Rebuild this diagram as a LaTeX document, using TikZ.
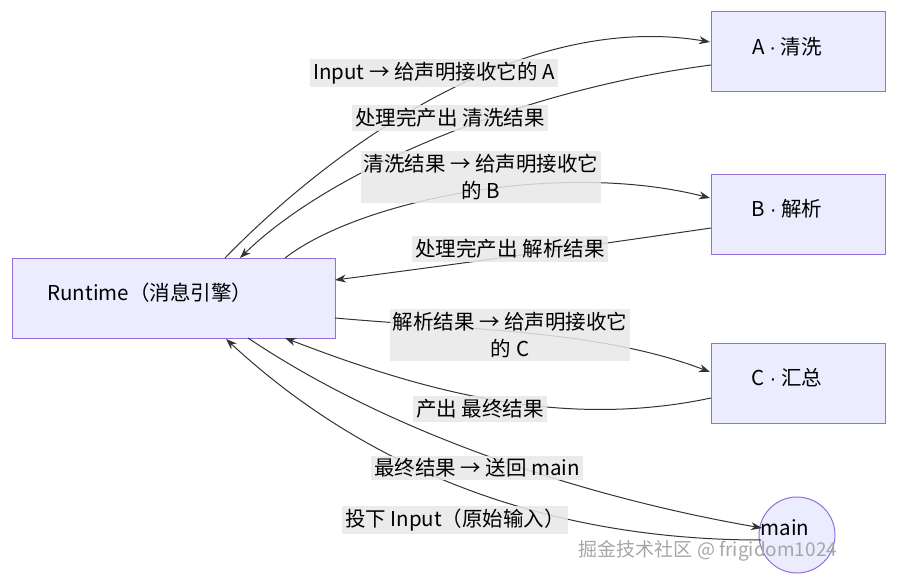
\documentclass[tikz,border=0pt]{standalone}
\usepackage{fontspec}
\setmainfont{Noto Sans CJK SC}
\newfontfamily\lat{Liberation Sans}
\usetikzlibrary{arrows.meta}
\definecolor{bd}{RGB}{147,112,219}
\begin{document}
\begin{tikzpicture}[x=1pt,y=-1pt,font=\fontsize{20.5}{27}\selectfont,
 box/.style={draw=bd,fill={rgb,255:red,236;green,236;blue,255},line width=1pt,inner sep=0},
 edge/.style={draw={rgb,255:red,51;green,51;blue,51},line width=1pt,-{Stealth[length=11pt,width=8pt]}},
 lbl/.style={fill={rgb,255:red,232;green,232;blue,232},fill opacity=0.85,text opacity=1,inner sep=3pt,align=center}]
\useasboundingbox (0,0) rectangle (898,586);
\node[box,minimum width=323pt,minimum height=80pt] (R) at (173.5,298) {};
\node[anchor=west] at (44,293) {Runtime（消息引擎）};
\node[box,minimum width=174pt,minimum height=80pt] (A) at (798,52) {};
\node at (787,47) {A {\lat·} 清洗};
\node[box,minimum width=174pt,minimum height=80pt] (B) at (798,214) {};
\node at (787,209) {B {\lat·} 解析};
\node[box,minimum width=174pt,minimum height=80pt] (C) at (798,383) {};
\node at (787,378) {C {\lat·} 汇总};
\node[box,circle,minimum size=76pt] (M) at (797,535) {};
\node at (785,528) {main};
\coordinate (r1) at (225,258); \coordinate (r2) at (240,258);
\coordinate (r3) at (285,258); \coordinate (r4) at (335,280);
\coordinate (r5) at (335,318); \coordinate (r6) at (285,338);
\coordinate (r7) at (248,338); \coordinate (r8) at (226,339);
\coordinate (a1) at (710,42); \coordinate (a2) at (711,65);
\coordinate (b1) at (710,198); \coordinate (b2) at (711,228);
\coordinate (c1) at (710,372); \coordinate (c2) at (711,398);
\coordinate (m1) at (762,528); \coordinate (m2) at (761,540);
\draw[edge] (r1) .. controls (330,150) and (520,10) .. (a1);
\draw[edge] (a2) .. controls (520,90) and (330,170) .. (r2);
\draw[edge] (r3) .. controls (360,200) and (560,160) .. (b1);
\draw[edge] (b2) .. controls (560,250) and (450,265) .. (r4);
\draw[edge] (r5) .. controls (470,330) and (600,330) .. (c1);
\draw[edge] (c2) .. controls (560,430) and (420,390) .. (r6);
\draw[edge] (r7) .. controls (400,440) and (600,500) .. (m1);
\draw[edge] (m2) .. controls (600,540) and (400,500) .. (r8);
\node[lbl] at (434,73) {Input → 给声明接收它的 A};
\node[lbl] at (450,118) {处理完产出 清洗结果};
\node[lbl] at (481,177) {清洗结果 → 给声明接收它\\的 B};
\node[lbl] at (510,249) {处理完产出 解析结果};
\node[lbl] at (510,335) {解析结果 → 给声明接收它\\的 C};
\node[lbl] at (480,409) {产出 最终结果};
\node[lbl] at (477,468) {最终结果 → 送回 main};
\node[lbl] at (455,520) {投下 Input（原始输入）};
\node[text=gray!70,font=\fontsize{19}{20}\selectfont] at (708,551) {掘金技术社区 @ frigidom1024};
\end{tikzpicture}
\end{document}
